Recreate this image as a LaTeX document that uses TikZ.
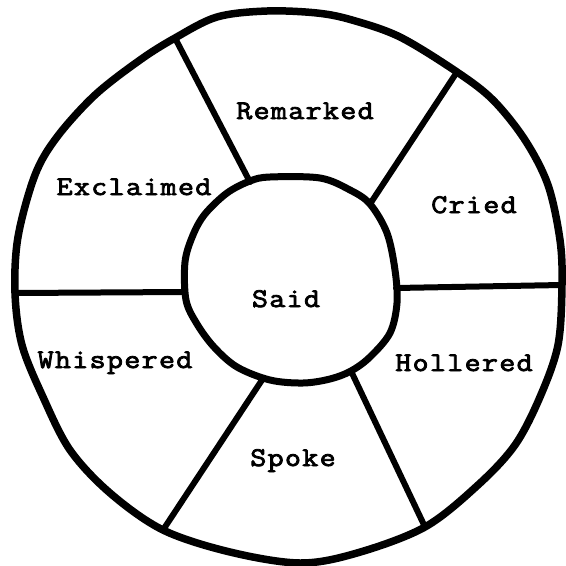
\documentclass[tikz,border=0pt]{standalone}
\usepackage{fontspec}
\newfontfamily\tw{Latin Modern Mono}[FakeStretch=1.15, FakeBold=3, LetterSpace=5]
\begin{document}
\begin{tikzpicture}[x=1pt,y=-1pt,
  rim/.style={line width=7.5pt, line join=round},
  hub/.style={line width=7pt, line join=round},
  spoke/.style={line width=6pt, line cap=round},
  lbl/.style={font=\tw\fontsize{27}{27}\selectfont, anchor=base, inner sep=0pt}]
\useasboundingbox[fill=white] (0,0) rectangle (566,566);
% joints on the rim
\coordinate (o1) at (175,38);
\coordinate (o2) at (457,72);
\coordinate (o3) at (562,285);
\coordinate (o4) at (425,527);
\coordinate (o5) at (163,530);
\coordinate (o6) at (15,293);
% joints on the hub
\coordinate (i1) at (250,182);
\coordinate (i2) at (370,204);
\coordinate (i3) at (396,288);
\coordinate (i4) at (351,371);
\coordinate (i5) at (262,380);
\coordinate (i6) at (184,292);
% spokes
\draw[spoke] (i1) -- (o1);
\draw[spoke] (i2) -- (o2);
\draw[spoke] (i3) -- (o3);
\draw[spoke] (i4) -- (o4);
\draw[spoke] (i5) -- (o5);
\draw[spoke] (i6) -- (o6);
% outer rim
\draw[rim] plot[smooth cycle, tension=0.55] coordinates {
  (175,38) (217,17) (267,11) (317,13) (352,20) (400,37) (457,72)
  (493,100) (525,140) (548,185) (560,240) (562,285) (558,345)
  (540,397) (515,445) (478,485) (425,527) (357,553) (300,563)
  (230,552) (163,530) (110,493) (70,450) (43,397) (22,345)
  (15,293) (18,237) (35,175) (57,137) (95,95) (140,60)};
% hub
\draw[hub] plot[smooth cycle, tension=0.55] coordinates {
  (250,181) (270,177) (320,178) (350,190) (370,204) (387,233)
  (395,270) (397,303) (390,333) (370,357) (351,371) (330,379)
  (303,383) (270,380) (237,367) (214,347) (197,324) (186,300)
  (185,262) (193,235) (205,214) (227,193)};
% labels
\node[lbl] (remarked) at (305,119) {Remarked};
\node[lbl] (exclaimed) at (134,195) {Exclaimed};
\node[lbl] (cried) at (474,213) {Cried};
\node[lbl] (said) at (286,307) {Said};
\node[lbl] (whispered) at (115,368) {Whispered};
\node[lbl] (hollered) at (464,371) {Hollered};
\node[lbl] (spoke) at (293,466) {Spoke};
\end{tikzpicture}
\end{document}
